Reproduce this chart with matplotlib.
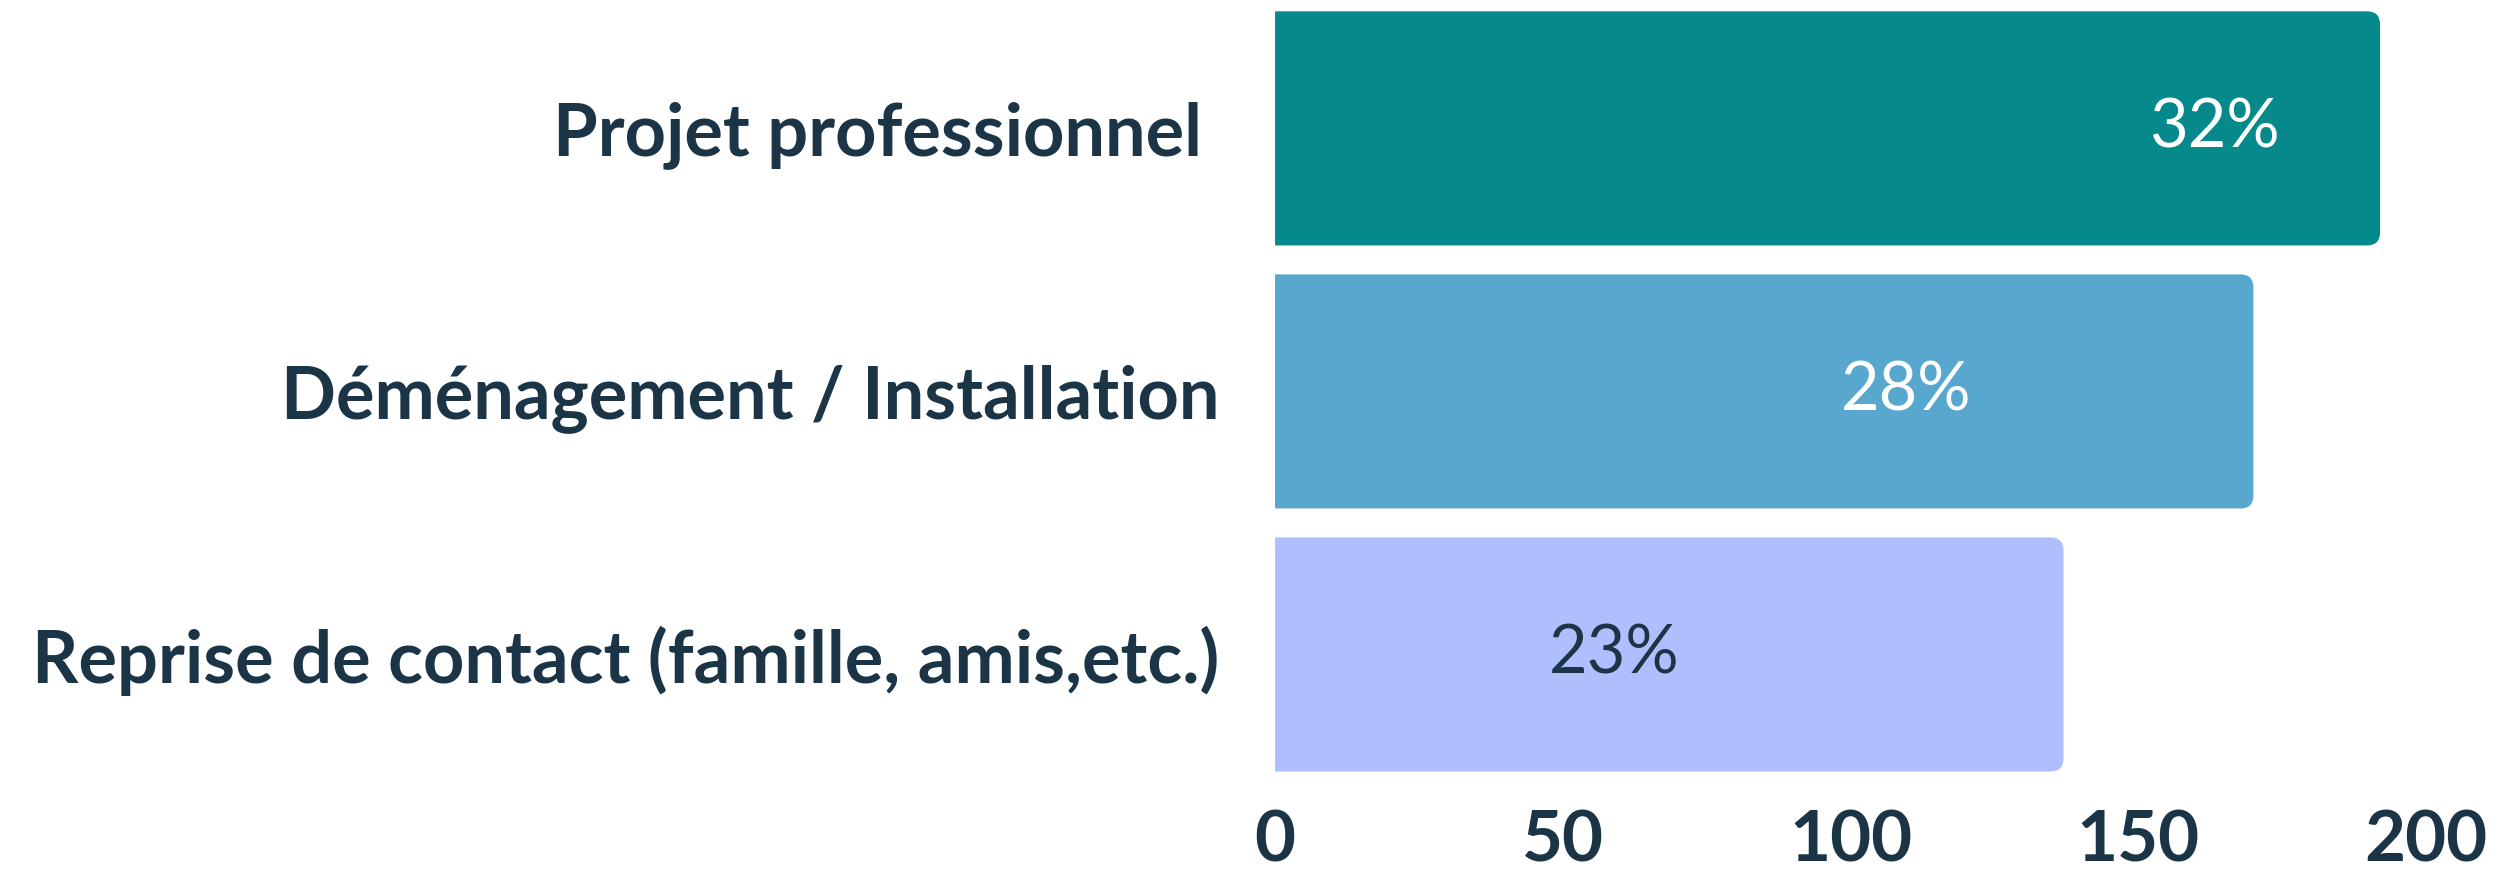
import matplotlib
matplotlib.use("Agg")
import matplotlib.pyplot as plt
from matplotlib.patches import PathPatch
from matplotlib.path import Path

categories = ["Projet professionnel ", "Déménagement / Installation",
              "Reprise de contact (famille, amis,etc.)"]
counts = [192, 170, 137]
pct_labels = ["32%", "28%", "23%"]
ticks = [0, 50, 100, 150, 200]

bar_colors = ["#06898a", "#57a7cf", "#afbefd"]
label_colors = ["white", "white", "#1b3547"]
label_frac = [0.85, 0.645, 0.43]   # where the % label sits along each bar
text_color = "#1b3547"


def right_rounded(x, y, w, h, rx, ry):
    # bar with square left end and rounded right corners
    verts = [(x, y), (x + w - rx, y), (x + w, y), (x + w, y + ry),
             (x + w, y + h - ry), (x + w, y + h), (x + w - rx, y + h),
             (x, y + h), (x, y)]
    codes = [Path.MOVETO, Path.LINETO, Path.CURVE3, Path.CURVE3,
             Path.LINETO, Path.CURVE3, Path.CURVE3, Path.LINETO, Path.CLOSEPOLY]
    return Path(verts, codes)


fig = plt.figure(figsize=(25.06, 8.71), dpi=100)
ax = fig.add_axes([0.5088, 0.0976, 0.4593, 0.906])

ypos = list(range(len(categories)))
bars = ax.barh(ypos, counts, height=0.89, color="none")
ax.set_xlim(0, 200)
ax.set_ylim(2.5, -0.5)

fig.canvas.draw()
bb = ax.get_window_extent()
rx = 13 * 200.0 / bb.width
ry = 13 * 3.0 / bb.height

for b, c in zip(bars, bar_colors):
    p = right_rounded(b.get_x(), b.get_y(), b.get_width(), b.get_height(), rx, ry)
    ax.add_patch(PathPatch(p, fc=c, ec="none", zorder=2))

for i, (v, t) in enumerate(zip(counts, pct_labels)):
    ax.text(v * label_frac[i], i, t, ha="center", va="center", fontsize=48,
            color=label_colors[i], family="Lato", zorder=3)

ax.set_yticks(ypos)
ax.set_yticklabels(categories, fontsize=52, fontweight="bold", family="Lato", color=text_color)
ax.set_xticks(ticks)
ax.set_xticklabels([str(t) for t in ticks], fontsize=51, fontweight="bold", family="Lato",
                   color=text_color)
ax.tick_params(axis="both", length=0)
ax.tick_params(axis="y", pad=40)
ax.tick_params(axis="x", pad=16)
for s in ax.spines.values():
    s.set_visible(False)

fig.savefig("out.png", dpi=100, facecolor="white")
